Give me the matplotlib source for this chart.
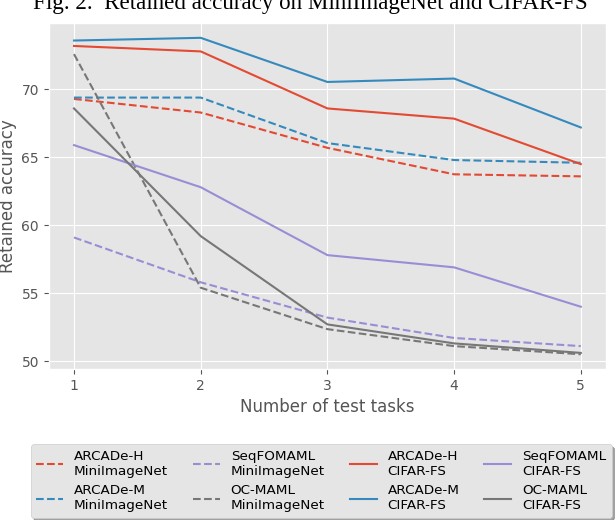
import matplotlib
matplotlib.use("Agg")
import matplotlib.pyplot as plt

plt.style.use("ggplot")

tasks = [1, 2, 3, 4, 5]

# MiniImageNet (dashed)
arcade_h_mini = [69.3, 68.3, 65.7, 63.75, 63.6]
arcade_m_mini = [69.4, 69.4, 66.05, 64.8, 64.6]
seqfomaml_mini = [59.1, 55.8, 53.2, 51.7, 51.1]
ocmaml_mini = [72.6, 55.4, 52.35, 51.1, 50.5]

# CIFAR-FS (solid)
arcade_h_cifar = [73.2, 72.8, 68.6, 67.85, 64.5]
arcade_m_cifar = [73.6, 73.8, 70.55, 70.8, 67.2]
seqfomaml_cifar = [65.9, 62.8, 57.8, 56.9, 54.0]
ocmaml_cifar = [68.6, 59.2, 52.7, 51.3, 50.6]

red, blue, purple, gray = "#E24A33", "#348ABD", "#988ED5", "#777777"

fig = plt.figure(figsize=(6.16, 5.2), dpi=100)
ax = fig.add_axes([0.079, 0.290, 0.905, 0.666])

ax.plot(tasks, arcade_h_mini, "--", color=red, label="ARCADe-H\nMiniImageNet")
ax.plot(tasks, arcade_m_mini, "--", color=blue, label="ARCADe-M\nMiniImageNet")
ax.plot(tasks, seqfomaml_mini, "--", color=purple, label="SeqFOMAML\nMiniImageNet")
ax.plot(tasks, ocmaml_mini, "--", color=gray, label="OC-MAML\nMiniImageNet")
ax.plot(tasks, arcade_h_cifar, "-", color=red, label="ARCADe-H\nCIFAR-FS")
ax.plot(tasks, arcade_m_cifar, "-", color=blue, label="ARCADe-M\nCIFAR-FS")
ax.plot(tasks, seqfomaml_cifar, "-", color=purple, label="SeqFOMAML\nCIFAR-FS")
ax.plot(tasks, ocmaml_cifar, "-", color=gray, label="OC-MAML\nCIFAR-FS")

ax.set_xticks(tasks)
ax.set_yticks([50, 55, 60, 65, 70])
ax.set_xlim(0.8, 5.2)
ax.set_ylim(49.4, 74.9)
ax.set_xlabel("Number of test tasks")
ax.set_ylabel("Retained accuracy", labelpad=3)

ax.legend(loc="upper center", bbox_to_anchor=(0.489, -0.197), ncol=4,
          shadow=True, fancybox=True, fontsize=9.7, columnspacing=1.85)

# figure caption, partly cut at the top edge as in the source image
fig.text(0.503, 1 - 9 / 520, "Fig. 2.  Retained accuracy on MiniImageNet and CIFAR-FS",
         ha="center", va="baseline", fontsize=16.6, family="Liberation Serif")

fig.savefig("out.png", dpi=100)
